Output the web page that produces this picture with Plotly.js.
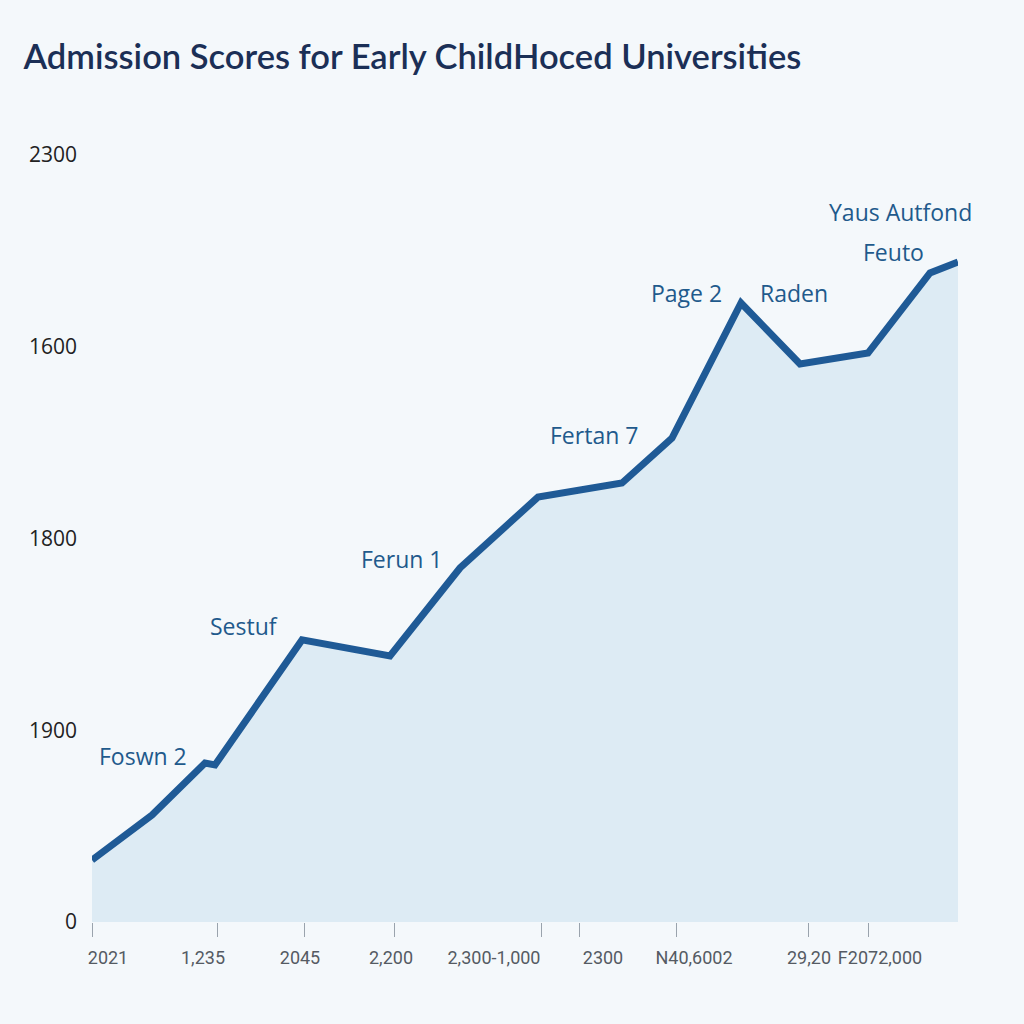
<!DOCTYPE html>
<html>
<head>
<meta charset="utf-8">
<script src="https://cdn.plot.ly/plotly-3.0.1.min.js"></script>
<style>
html,body{margin:0;padding:0;background:#f4f8fb;}
#chart{width:1024px;height:1024px;}
</style>
</head>
<body>
<div id="chart"></div>
<script>
// Data (x in chart position units, y in tick-level units)
const xValues = [0, 6.0, 11.3, 12.3, 21.0, 29.8, 36.8, 44.6, 53.0, 58.0, 64.9, 70.8, 77.6, 83.8, 86.6];
const yValues = [0.323, 0.558, 0.829, 0.819, 1.471, 1.387, 1.846, 2.216, 2.289, 2.524, 3.228, 2.910, 2.967, 3.385, 3.442];

const yTickVals = [0, 1, 2, 3, 4];
const yTickText = ["0", "1900", "1800", "1600", "2300"];

const xTickMarkVals = [0, 12.5, 21.2, 30.2, 44.9, 48.7, 58.4, 71.6, 77.6];
const xLabelVals = [1.6, 11.1, 20.8, 29.9, 40.2, 51.1, 60.2, 71.7, 78.8];
const xLabelText = ["2021", "1,235", "2045", "2,200", "2,300-1,000", "2300", "N40,6002", "29,20", "F2072,000"];

const noteText = ["Foswn 2", "Sestuf", "Ferun 1", "Fertan 7", "Page 2", "Raden", "Feuto", "Yaus Autfond"];
const noteX = [5.1, 15.2, 31.0, 50.2, 59.4, 70.2, 80.1, 80.8];
const noteY = [0.867, 1.544, 1.893, 2.540, 3.280, 3.280, 3.494, 3.703];

const lineColor = "#1f5a96";
const textColor = "#1f5a8c";

const traces = [
  {
    x: xValues, y: yValues, type: "scatter", mode: "lines",
    line: {color: lineColor, width: 7, shape: "linear"},
    fill: "tozeroy", fillcolor: "rgba(205,226,240,0.6)",
    hoverinfo: "skip", cliponaxis: false
  },
  {
    x: xLabelVals, y: xLabelVals.map(() => 0), xaxis: "x2", type: "scatter",
    mode: "markers", marker: {opacity: 0}, hoverinfo: "skip", showlegend: false
  }
];

const annotations = noteText.map((t, i) => ({
  x: noteX[i], y: noteY[i], xref: "x", yref: "y", text: t, showarrow: false,
  font: {family: "'Open Sans', 'Noto Sans', sans-serif", size: 23, color: textColor, weight: 500},
  xanchor: "center", yanchor: "middle"
}));

const layout = {
  width: 1024, height: 1024,
  paper_bgcolor: "#f4f8fb", plot_bgcolor: "rgba(0,0,0,0)",
  margin: {l: 92, r: 66, t: 140, b: 102},
  showlegend: false,
  title: {
    text: "Admission Scores for Early ChildHoced Universities",
    x: 0.023, xanchor: "left", y: 0.944, yanchor: "middle",
    font: {family: "Lato, Inter, sans-serif", size: 34.5, color: "#1b2f56", weight: 600}
  },
  xaxis: {
    range: [0, 86.6], showgrid: false, zeroline: false, showline: false,
    tickmode: "array", tickvals: xTickMarkVals, showticklabels: false,
    ticks: "outside", ticklen: 14, tickcolor: "#9aa3ad", tickwidth: 1
  },
  xaxis2: {
    overlaying: "x", matches: "x", side: "bottom", range: [0, 86.6],
    showgrid: false, zeroline: false, showline: false,
    tickmode: "array", tickvals: xLabelVals, ticktext: xLabelText,
    ticks: "", ticklabelstandoff: 23, tickangle: 0,
    tickfont: {family: "Roboto, sans-serif", size: 18, color: "#555b63"}
  },
  yaxis: {
    range: [0, 4.078], showgrid: false, zeroline: false, showline: false,
    tickmode: "array", tickvals: yTickVals, ticktext: yTickText,
    ticks: "", ticklabelstandoff: 14,
    tickfont: {family: "'Open Sans', sans-serif", size: 21, color: "#222"}
  },
  annotations: annotations
};

Plotly.newPlot("chart", traces, layout, {displayModeBar: false, staticPlot: true});
</script>
</body>
</html>
